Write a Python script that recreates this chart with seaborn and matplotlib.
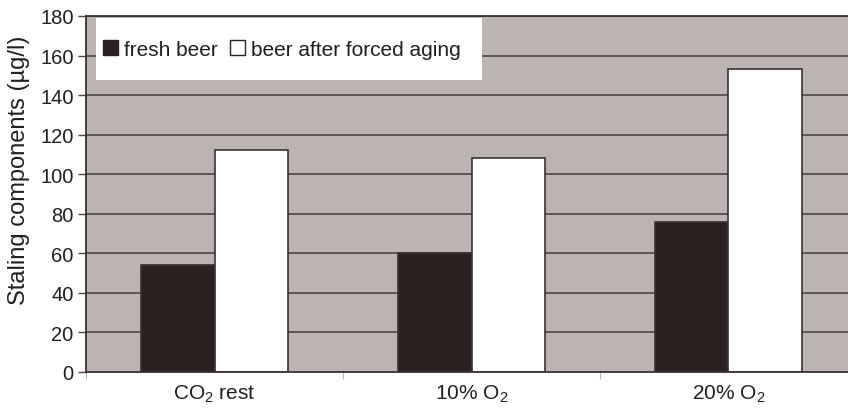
import matplotlib
matplotlib.use("Agg")
import matplotlib.pyplot as plt
from matplotlib.patches import Rectangle
import seaborn as sns
import pandas as pd

categories = ["CO$_2$ rest", "10% O$_2$", "20% O$_2$"]
series_names = ["fresh beer", "beer after forced aging"]
fresh = [54, 60, 76]
aged = [112, 108, 153]
y_ticks = [0, 20, 40, 60, 80, 100, 120, 140, 160, 180]

df = pd.DataFrame({
    "category": categories * 2,
    "series": [series_names[0]] * 3 + [series_names[1]] * 3,
    "value": fresh + aged,
})

sns.set_theme(style="white")
plt.rcParams["font.family"] = ["Liberation Sans", "DejaVu Sans"]
plt.rcParams["mathtext.fontset"] = "custom"
plt.rcParams["mathtext.rm"] = "Liberation Sans"
plt.rcParams["mathtext.it"] = "Liberation Sans:italic"
plt.rcParams["mathtext.bf"] = "Liberation Sans:bold"

text_col = "#231f20"
fig = plt.figure(figsize=(8.48, 4.10), dpi=100)
ax = fig.add_axes([86 / 848, 1 - 373 / 410, 771 / 848, 356 / 410])
ax.set_facecolor("#bbb4b3")

grid_col = "#4e4646"
for t in y_ticks[1:]:
    ax.axhline(t, color=grid_col, lw=1.2, zorder=0.5)

sns.barplot(data=df, x="category", y="value", hue="series",
            palette=["#2a2221", "#ffffff"], width=0.572, gap=0,
            edgecolor="#3a3232", linewidth=1.2, saturation=1,
            errorbar=None, ax=ax, zorder=2)

ax.set_xlim(-0.5, 2.5)
ax.set_ylim(0, 180)
ax.set_yticks(y_ticks)
ax.set_yticklabels([str(t) for t in y_ticks], fontsize=14.5, color=text_col)
ax.set_xticks(range(3))
ax.set_xticklabels(categories, fontsize=15, color=text_col)
ax.tick_params(axis="x", length=0, pad=8)
ax.tick_params(axis="y", left=True, length=6, width=1, color="#4e4646", pad=3)
ax.set_xticks([-0.5, 0.5, 1.5, 2.5], minor=True)
ax.tick_params(axis="x", which="minor", bottom=True, length=5, width=0.8, color="#bbbbbb")
ax.set_xlabel("")
ax.set_ylabel("Staling components (µg/l)", fontsize=17, color=text_col)
ax.yaxis.set_label_coords(-0.073, 0.568)

for side in ["left", "bottom", "top"]:
    ax.spines[side].set_color("#3a3232")
    ax.spines[side].set_linewidth(1.3)
ax.spines["right"].set_visible(False)

# legend background box
ax.add_patch(Rectangle((0.013, 0.820), 0.5006, 0.174, transform=ax.transAxes,
                       facecolor="white", edgecolor="none", zorder=4))

leg = ax.legend(loc="center left", bbox_to_anchor=(0.022, 0.907), borderaxespad=0,
                ncol=2, frameon=False, fontsize=15,
                handlelength=0.7, handleheight=0.7, handletextpad=0.3,
                columnspacing=0.6, borderpad=0)
for h in leg.legend_handles:
    h.set_edgecolor("#2a2221")
    h.set_linewidth(1.0)
for txt in leg.get_texts():
    txt.set_color(text_col)
leg.set_zorder(5)

fig.savefig("out.png", dpi=100)
